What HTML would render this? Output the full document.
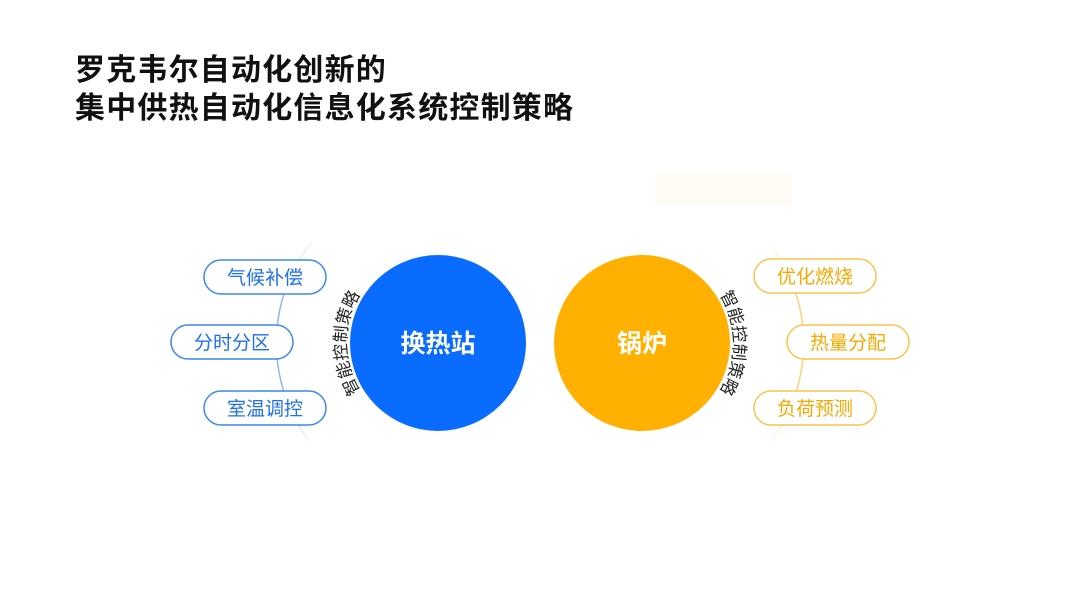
<!DOCTYPE html>
<html><head><meta charset="utf-8"><style>
body{margin:0;background:#fff;}
.t{position:absolute;left:75px;font:bold 30px/38px "Liberation Sans","Noto Sans CJK SC",sans-serif;color:#111;letter-spacing:1.2px;}
</style></head><body>
<div style="position:relative;width:1080px;height:608px;overflow:hidden">
<div class="t" style="top:52px">罗克韦尔自动化创新的</div>
<div class="t" style="top:90px">集中供热自动化信息化系统控制策略</div>
<svg width="1080" height="608" style="position:absolute;left:0;top:0" font-family="Liberation Sans,Noto Sans CJK SC,sans-serif">
<defs>
<linearGradient id="gb" x1="0" y1="0" x2="0" y2="1"><stop offset="0" stop-color="#6fa3f7" stop-opacity="0"/><stop offset=".3" stop-color="#6fa3f7" stop-opacity=".8"/><stop offset=".7" stop-color="#6fa3f7" stop-opacity=".8"/><stop offset="1" stop-color="#6fa3f7" stop-opacity="0"/></linearGradient>
<linearGradient id="go" x1="0" y1="0" x2="0" y2="1"><stop offset="0" stop-color="#fcc558" stop-opacity="0"/><stop offset=".3" stop-color="#fcc558" stop-opacity=".8"/><stop offset=".7" stop-color="#fcc558" stop-opacity=".8"/><stop offset="1" stop-color="#fcc558" stop-opacity="0"/></linearGradient>
<path id="pl" d="M373.6,408.1 A91.5,91.5 0 0 1 373.6,277.9"/>
<path id="pr" d="M706.4,277.9 A91.5,91.5 0 0 1 706.4,408.1"/>
</defs>
<rect x="655" y="173" width="137" height="32" fill="#fffcf6"/>
<path d="M315,238 A162,162 0 0 0 315,448" fill="none" stroke="url(#gb)" stroke-width="1.5"/>
<path d="M765,238 A162,162 0 0 1 765,448" fill="none" stroke="url(#go)" stroke-width="1.5"/>
<circle cx="438" cy="343" r="88" fill="#0a6cff"/>
<circle cx="642" cy="343" r="88" fill="#ffb000"/>
<text x="438" y="352" text-anchor="middle" fill="#fff" font-size="25" font-weight="bold">换热站</text>
<text x="642" y="352" text-anchor="middle" fill="#fff" font-size="25" font-weight="bold">锅炉</text>
<text font-size="17" fill="#222"><textPath href="#pl" startOffset="50%" text-anchor="middle">智能控制策略</textPath></text>
<text font-size="17" fill="#222"><textPath href="#pr" startOffset="50%" text-anchor="middle">智能控制策略</textPath></text>
<g fill="#fff" stroke="#3d86f5" stroke-width="1.5">
<rect x="204" y="260" width="122" height="34" rx="17"/>
<rect x="171" y="325" width="122" height="34" rx="17"/>
<rect x="204" y="391" width="122" height="34" rx="17"/>
</g>
<g fill="#fff" stroke="#fcc24c" stroke-width="1.5">
<rect x="754" y="259" width="122" height="34" rx="17"/>
<rect x="787" y="325" width="122" height="34" rx="17"/>
<rect x="754" y="391" width="122" height="34" rx="17"/>
</g>
<g font-size="19" fill="#1f6ff2" text-anchor="middle">
<text x="265" y="284">气候补偿</text>
<text x="232" y="349">分时分区</text>
<text x="265" y="415">室温调控</text>
</g>
<g font-size="19" fill="#f6a800" text-anchor="middle">
<text x="815" y="283">优化燃烧</text>
<text x="848" y="349">热量分配</text>
<text x="815" y="415">负荷预测</text>
</g>
</svg>
</div>
</body></html>
